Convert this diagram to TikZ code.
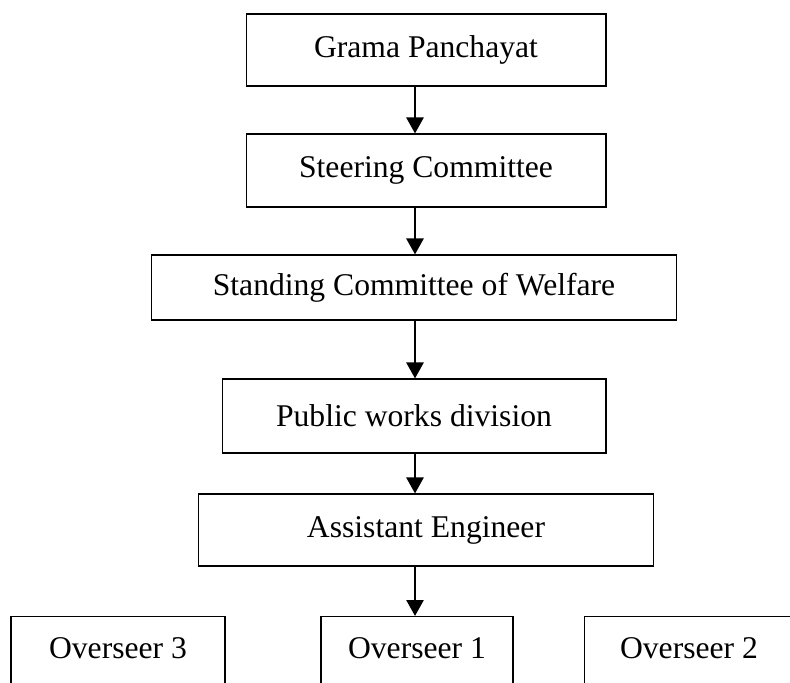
\documentclass[tikz,border=0pt]{standalone}
\usepackage{fontspec}
\setmainfont{Liberation Serif}
\usetikzlibrary{arrows.meta}

\begin{document}
\begin{tikzpicture}[x=0.02cm,y=-0.02cm,
        arrow/.style={-{Triangle[length=0.32cm,width=0.34cm]},line width=1.5pt},
        frame/.style={draw,line width=0.6pt,inner sep=2pt,font=\fontsize{18}{22}\selectfont},
        open frame/.style={frame,anchor=north,inner ysep=0pt,text height=0.83cm,text depth=2cm},
    ]
        \useasboundingbox (0,0) rectangle (790,682);
        \clip (0,0) rectangle (790,682);
        \coordinate (spine) at (415,0);

        % chain
        \node (panchayat) at (426,50)    [frame,minimum width=7.2cm,minimum height=1.44cm]
            {Grama Panchayat};
        \node (steering)  at (426,170.5) [frame,minimum width=7.2cm,minimum height=1.46cm]
            {Steering Committee};
        \node (welfare)   at (414,287.5) [frame,minimum width=10.52cm,minimum height=1.3cm]
            {Standing Committee of Welfare};
        \node (works)     at (414,416)   [frame,minimum width=7.68cm,minimum height=1.48cm]
            {Public works division};
        \node (engineer)  at (426,530)   [frame,minimum width=9.12cm,minimum height=1.44cm]
            {Assistant Engineer};

        \draw[arrow] (panchayat.south -| spine) -- (steering.north -| spine);
        \draw[arrow] (steering.south -| spine) -- (welfare.north -| spine);
        \draw[arrow] (welfare.south -| spine) -- (works.north -| spine);
        \draw[arrow] (works.south -| spine) -- (engineer.north -| spine);

        % overseers
        \node (overseer3) at (118,616) [open frame,minimum width=4.28cm] {Overseer 3};
        \node (overseer1) at (417,616) [open frame,minimum width=3.84cm] {Overseer 1};
        \node (overseer2) at (689,616) [open frame,minimum width=4.2cm]  {Overseer 2};

        \draw[arrow] (engineer.south -| spine) -- (overseer1.north -| spine);
    \end{tikzpicture}
\end{document}
